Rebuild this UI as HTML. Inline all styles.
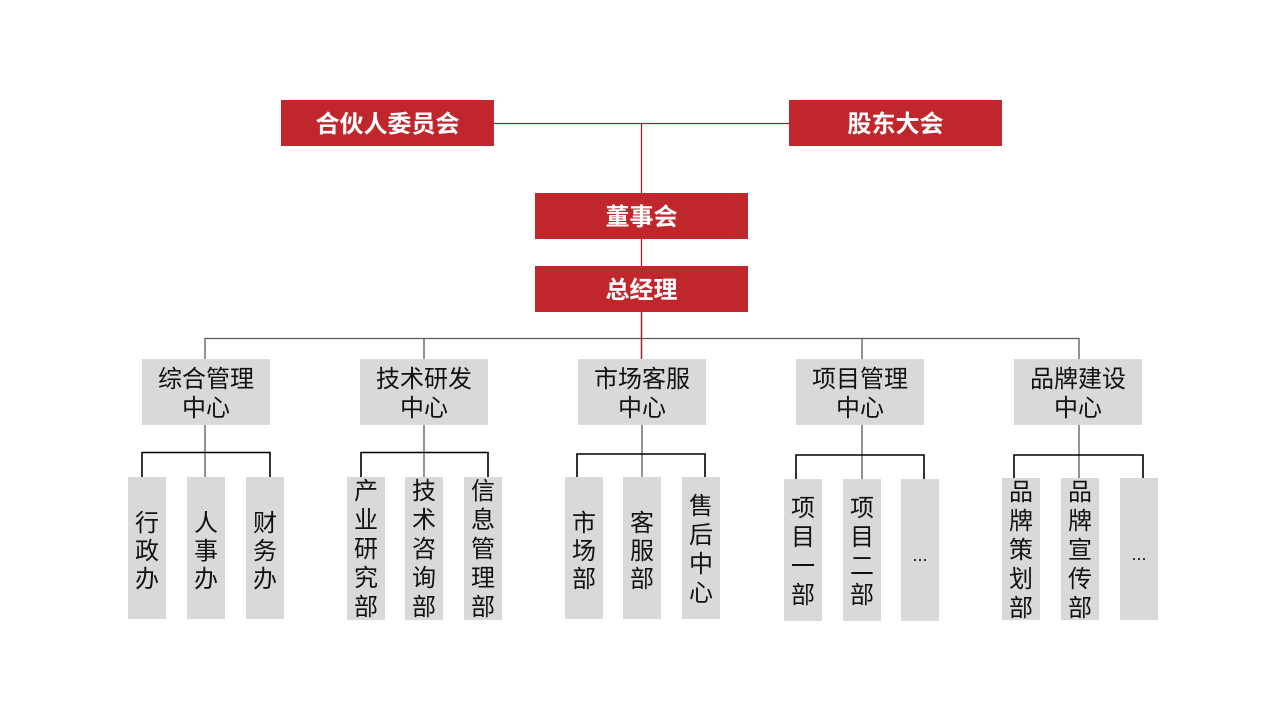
<!DOCTYPE html>
<html><head><meta charset="utf-8">
<style>
html,body{margin:0;padding:0;background:#fff;}
svg{display:block;}
.t{font-family:"Liberation Sans","Noto Sans CJK SC",sans-serif;}
.w{fill:#fff;font-weight:bold;font-size:24px;}
.k{fill:#111;font-size:24px;}
</style></head>
<body>
<svg width="1280" height="720" viewBox="0 0 1280 720" xmlns="http://www.w3.org/2000/svg">
<rect width="1280" height="720" fill="#fff"/>
<!-- top connectors -->
<line x1="494" y1="123.5" x2="789" y2="123.5" stroke="#8E2A30" stroke-width="1.3"/>
<line x1="641.5" y1="123" x2="641.5" y2="359" stroke="#8E2A30" stroke-width="1.3"/>
<!-- gray level line -->
<line x1="205" y1="338.5" x2="1079" y2="338.5" stroke="#595959" stroke-width="1.3"/>
<g stroke="#595959" stroke-width="1.3">
<line x1="205" y1="338" x2="205" y2="359"/>
<line x1="424" y1="338" x2="424" y2="359"/>
<line x1="862" y1="338" x2="862" y2="359"/>
<line x1="1079" y1="338" x2="1079" y2="359"/>
<line x1="205" y1="425" x2="205" y2="477"/>
<line x1="424" y1="425" x2="424" y2="477"/>
<line x1="642" y1="425" x2="642" y2="477"/>
<line x1="862" y1="425" x2="862" y2="479"/>
<line x1="1079" y1="425" x2="1079" y2="478"/>
</g>
<line x1="641.5" y1="312" x2="641.5" y2="359" stroke="#8E2A30" stroke-width="1.3"/>
<!-- black branches -->
<g stroke="#000" stroke-width="1.6" fill="none">
<polyline points="142,477 142,452.5 270,452.5 270,477"/>
<polyline points="361,477 361,452.5 488,452.5 488,477"/>
<polyline points="577,477 577,454 705,454 705,477"/>
<polyline points="796,479 796,455 924,455 924,479"/>
<polyline points="1014,478 1014,455 1143,455 1143,478"/>
</g>
<!-- red boxes -->
<g fill="#C0272D">
<rect x="281" y="100" width="213" height="46"/>
<rect x="789" y="100" width="213" height="46"/>
<rect x="535" y="193" width="213" height="46"/>
<rect x="535" y="266" width="213" height="46"/>
</g>
<g class="t w" text-anchor="middle">
<text x="387.5" y="132">合伙人委员会</text>
<text x="895.5" y="132">股东大会</text>
<text x="641.5" y="225">董事会</text>
<text x="641.5" y="298">总经理</text>
</g>
<!-- center boxes -->
<g fill="#D9D9D9">
<rect x="142" y="359" width="128" height="66"/>
<rect x="360" y="359" width="128" height="66"/>
<rect x="578" y="359" width="128" height="66"/>
<rect x="796" y="359" width="128" height="66"/>
<rect x="1014" y="359" width="128" height="66"/>
</g>
<g class="t k" text-anchor="middle">
<text x="206" y="387">综合管理</text><text x="206" y="416">中心</text>
<text x="424" y="387">技术研发</text><text x="424" y="416">中心</text>
<text x="642" y="387">市场客服</text><text x="642" y="416">中心</text>
<text x="860" y="387">项目管理</text><text x="860" y="416">中心</text>
<text x="1078" y="387">品牌建设</text><text x="1078" y="416">中心</text>
</g>
<!-- child boxes -->
<g fill="#D9D9D9">
<rect x="128" y="477" width="38" height="142"/>
<rect x="187" y="477" width="38" height="142"/>
<rect x="246" y="477" width="38" height="142"/>
<rect x="347" y="477" width="38" height="143"/>
<rect x="405" y="477" width="38" height="143"/>
<rect x="464" y="477" width="38" height="143"/>
<rect x="565" y="477" width="38" height="142"/>
<rect x="623" y="477" width="38" height="142"/>
<rect x="682" y="477" width="38" height="142"/>
<rect x="784" y="479" width="38" height="142"/>
<rect x="843" y="479" width="38" height="142"/>
<rect x="901" y="479" width="38" height="142"/>
<rect x="1002" y="478" width="38" height="142"/>
<rect x="1061" y="478" width="38" height="142"/>
<rect x="1120" y="478" width="38" height="142"/>
</g>
<g class="t k" text-anchor="middle">
<text x="147" y="531">行</text><text x="147" y="559">政</text><text x="147" y="587">办</text>
<text x="206" y="531">人</text><text x="206" y="559">事</text><text x="206" y="587">办</text>
<text x="265" y="531">财</text><text x="265" y="559">务</text><text x="265" y="587">办</text>
<text x="366" y="499">产</text><text x="366" y="528">业</text><text x="366" y="557">研</text><text x="366" y="586">究</text><text x="366" y="615">部</text>
<text x="424" y="499">技</text><text x="424" y="528">术</text><text x="424" y="557">咨</text><text x="424" y="586">询</text><text x="424" y="615">部</text>
<text x="483" y="499">信</text><text x="483" y="528">息</text><text x="483" y="557">管</text><text x="483" y="586">理</text><text x="483" y="615">部</text>
<text x="584" y="531">市</text><text x="584" y="559">场</text><text x="584" y="587">部</text>
<text x="642" y="531">客</text><text x="642" y="559">服</text><text x="642" y="587">部</text>
<text x="701" y="514">售</text><text x="701" y="543">后</text><text x="701" y="572">中</text><text x="701" y="601">心</text>
<text x="803" y="516">项</text><text x="803" y="545">目</text><text x="803" y="574">一</text><text x="803" y="603">部</text>
<text x="862" y="516">项</text><text x="862" y="545">目</text><text x="862" y="574">二</text><text x="862" y="603">部</text>
<text x="920" y="561" font-size="18">...</text>
<text x="1021" y="500">品</text><text x="1021" y="529">牌</text><text x="1021" y="558">策</text><text x="1021" y="587">划</text><text x="1021" y="616">部</text>
<text x="1080" y="500">品</text><text x="1080" y="529">牌</text><text x="1080" y="558">宣</text><text x="1080" y="587">传</text><text x="1080" y="616">部</text>
<text x="1139" y="560" font-size="18">...</text>
</g>
</svg>
</body></html>
